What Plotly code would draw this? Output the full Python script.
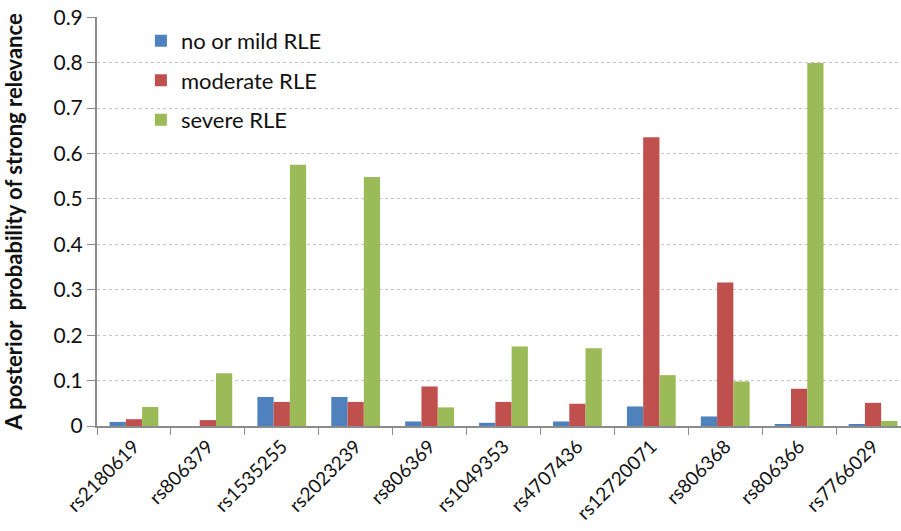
import plotly.graph_objects as go

categories = ["rs2180619", "rs806379", "rs1535255", "rs2023239", "rs806369", "rs1049353",
              "rs4707436", "rs12720071", "rs806368", "rs806366", "rs7766029"]
no_or_mild = [0.009, 0.0, 0.064, 0.064, 0.010, 0.007, 0.010, 0.043, 0.021, 0.003, 0.003]
moderate = [0.015, 0.013, 0.053, 0.053, 0.087, 0.053, 0.049, 0.636, 0.316, 0.082, 0.051]
severe = [0.042, 0.116, 0.575, 0.548, 0.041, 0.175, 0.171, 0.112, 0.098, 0.799, 0.011]
series_names = ["no or mild RLE", "moderate RLE", "severe RLE"]
colors = ["#4F81BD", "#C0504D", "#9BBB59"]
y_ticks = [0, 0.1, 0.2, 0.3, 0.4, 0.5, 0.6, 0.7, 0.8, 0.9]
y_tick_labels = ["0", "0.1", "0.2", "0.3", "0.4", "0.5", "0.6", "0.7", "0.8", "0.9"]

FONT = "Lato, 'Open Sans', sans-serif"

fig = go.Figure()
for name, vals, c in zip(series_names, [no_or_mild, moderate, severe], colors):
    fig.add_trace(go.Bar(x=categories, y=vals, name=name, marker_color=c,
                         marker_line_width=0, legendgroup=name))

fig.update_layout(
    width=910, height=531,
    margin=dict(l=97, r=0, t=17, b=105, autoexpand=False),
    plot_bgcolor="white", paper_bgcolor="white",
    barmode="group", bargap=0.34, bargroupgap=0,
    font=dict(family=FONT, size=19, color="#111"),
    legend=dict(x=0.054, y=0.993, xanchor="left", yanchor="top",
                font=dict(size=22, color="#111"), tracegroupgap=8,
                bgcolor="rgba(0,0,0,0)", itemwidth=30),
    showlegend=True,
)
fig.update_yaxes(range=[0, 0.9005], tickmode="array", tickvals=y_ticks, ticktext=y_tick_labels,
                 automargin=False, ticklabeloverflow="allow",
                 showgrid=True, gridcolor="#C4C4C4", griddash="dot", gridwidth=1,
                 showline=True, linecolor="#8C8C8C", linewidth=2,
                 ticks="outside", ticklen=8, tickcolor="#8C8C8C",
                 tickfont=dict(size=21), zeroline=False,
                 title=dict(text="<b>A posterior  probability of strong relevance</b>",
                            font=dict(size=22), standoff=28))
fig.update_xaxes(showline=True, linecolor="#8C8C8C", linewidth=2, automargin=False,
                 ticks="outside", tickson="boundaries", ticklen=7, tickcolor="#8C8C8C",
                 tickangle=-45, tickfont=dict(size=19), showgrid=False)

fig.write_html("out.html", config={"displayModeBar": False},
               post_script="document.body.style.margin='0';document.body.style.overflow='hidden';")
